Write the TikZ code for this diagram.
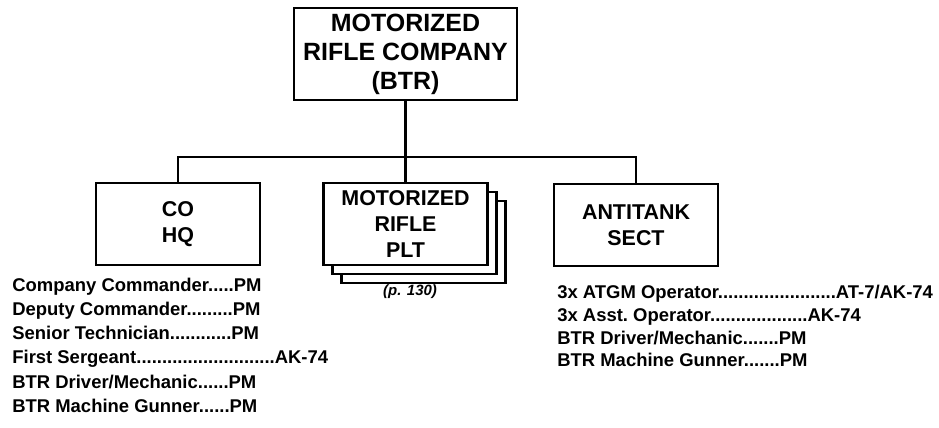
\documentclass[tikz,border=0pt]{standalone}
\usepackage{fontspec}
\setmainfont{Liberation Sans}
\usetikzlibrary{positioning, shadows}
\tikzset{
	rostertext/.style={font=\fontsize{10.5}{13.7}\selectfont\bfseries, align=left, inner sep=0pt}
}
\tikzset{
	pagetext/.style={font=\fontsize{8.5}{9}\selectfont\bfseries\itshape}
}

\begin{document}
\begin{tikzpicture}[x=0.02cm, y=-0.02cm]

      \tikzset{
        unitnode/.style={
            shape=rectangle,
            draw=black,
            line width=1.2pt,
            fill=white,
            minimum width=3.28cm,
            minimum height=1.64cm,
            inner sep=0pt,
            align=center,
            font=\fontsize{12.2}{15}\selectfont\bfseries
          }
      }

      \useasboundingbox (0,0) rectangle (939,427);

      \node[unitnode, minimum width=4.46cm, minimum height=1.84cm,
        font=\fontsize{14.2}{16.5}\selectfont\bfseries] (coy) at (405.5,54) {MOTORIZED\\RIFLE COMPANY\\(BTR)};
      \node[unitnode] (hq) at (178,224) {CO\\HQ};
      \node[unitnode, double copy shadow={shadow xshift=0.18cm, shadow yshift=-0.18cm,
        draw, line width=1.2pt, fill=white}] (plt) at (405.5,224) {MOTORIZED\\RIFLE\\PLT};
      \node[unitnode] (sect) at (636,225) {ANTITANK\\SECT};

      \coordinate (bus) at (405.5,157);
      \draw[line width=1.2pt] (coy) -- (bus);
      \draw[line width=1.2pt] (bus) -| (hq);
      \draw[line width=1.2pt] (bus) -- (plt);
      \draw[line width=1.2pt] (bus) -| (sect);

      \node[pagetext] (page) at (410,292) {(p. 130)};

      \node[rostertext, anchor=north west] (hqlist) at (12,278) {Company Commander.....PM\\
        Deputy Commander.........PM\\
        Senior Technician............PM\\
        First Sergeant...........................AK-74\\
        BTR Driver/Mechanic......PM\\
        BTR Machine Gunner......PM};
      \node[rostertext, anchor=north west, font=\fontsize{10.5}{12.9}\selectfont\bfseries] (sectlist) at (557,285) {3x ATGM Operator.......................AT-7/AK-74\\
        3x Asst.\ Operator...................AK-74\\
        BTR Driver/Mechanic.......PM\\
        BTR Machine Gunner.......PM};
    \end{tikzpicture}
\end{document}
